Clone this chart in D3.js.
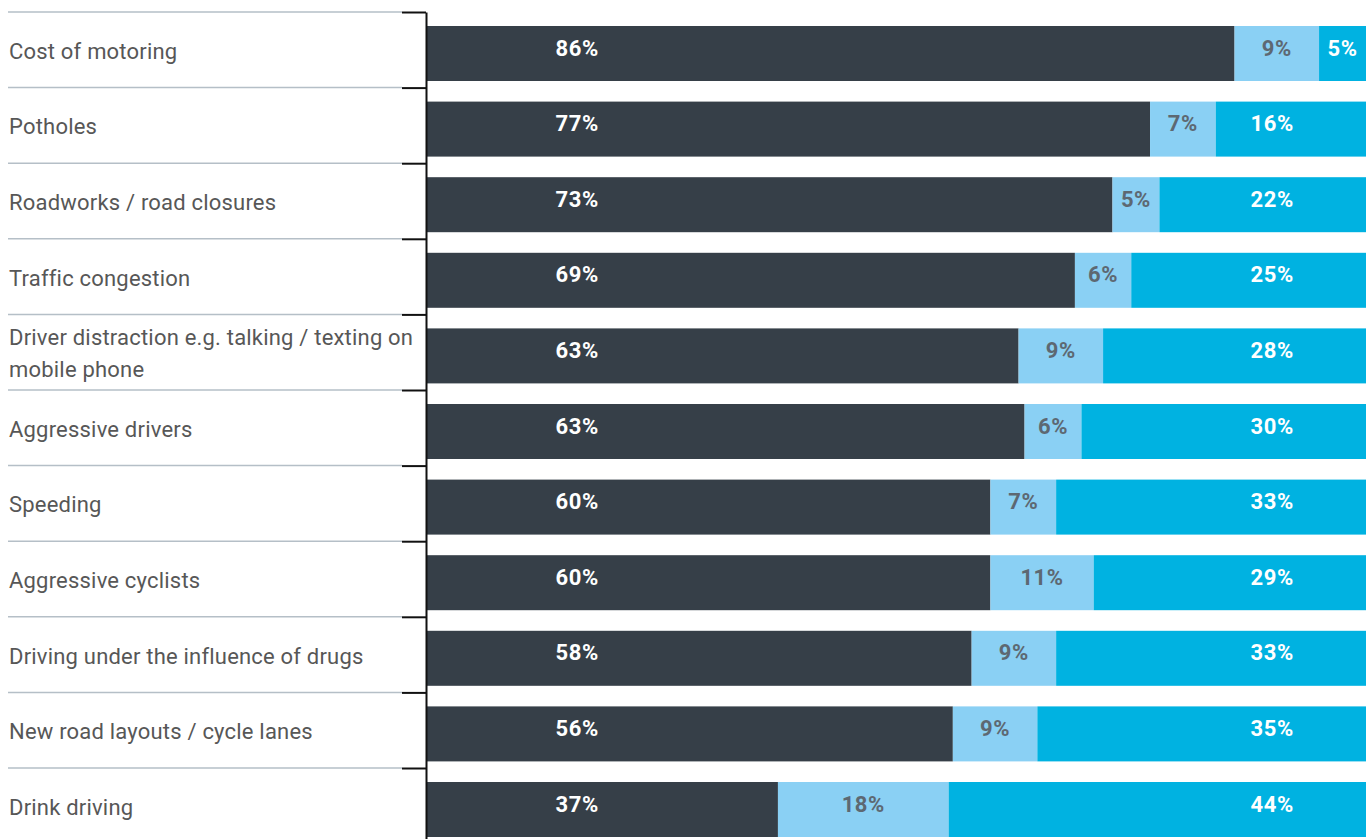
<!DOCTYPE html>
<html>
<head>
<meta charset="utf-8">
<script src="https://cdn.jsdelivr.net/npm/d3@7"></script>
<style>
  html, body { margin: 0; padding: 0; background: #ffffff; }
  svg { display: block; }
</style>
</head>
<body>
<svg id="chart" width="1372" height="839"></svg>
<script>
// Survey responses per road-use concern (percent of respondents)
const categories = [
  "Cost of motoring",
  "Potholes",
  "Roadworks / road closures",
  "Traffic congestion",
  "Driver distraction e.g. talking / texting on mobile phone",
  "Aggressive drivers",
  "Speeding",
  "Aggressive cyclists",
  "Driving under the influence of drugs",
  "New road layouts / cycle lanes",
  "Drink driving"
];
const seriesKeys = ["major", "neutral", "minor"];
const majorValues   = [86, 77, 73, 69, 63, 63, 60, 60, 58, 56, 37];
const neutralValues = [9, 7, 5, 6, 9, 6, 7, 11, 9, 9, 18];
const minorValues   = [5, 16, 22, 25, 28, 30, 33, 29, 33, 35, 44];

const rows = categories.map((c, i) => ({
  category: c,
  major: majorValues[i],
  neutral: neutralValues[i],
  minor: minorValues[i]
}));

const colors = { major: "#363f48", neutral: "#8ad0f4", minor: "#00b2e1" };
const labelColors = { major: "#ffffff", neutral: "#5d6872", minor: "#ffffff" };

const svg = d3.select("#chart");
const axisX = 426;
const barLeft = 427, barRight = 1366;
const rowTop = 12, rowStep = 75.6;

const yIdx = d3.scaleLinear()
  .domain([0, categories.length])
  .range([rowTop, rowTop + categories.length * rowStep]);
const y = d3.scaleBand()
  .domain(categories)
  .range([rowTop, rowTop + categories.length * rowStep])
  .padding(0);
const x = d3.scaleLinear().domain([0, 1]).range([barLeft, barRight]);

const stack = d3.stack().keys(seriesKeys).offset(d3.stackOffsetExpand);
const layers = stack(rows);

// separator lines between categories
svg.append("g")
  .selectAll("line")
  .data(d3.range(categories.length))
  .join("line")
  .attr("x1", 8).attr("x2", axisX - 24)
  .attr("y1", d => yIdx(d)).attr("y2", d => yIdx(d))
  .attr("stroke", "#b5bfc7")
  .attr("stroke-width", 1.5);

// stacked bars
const barOffset = 14, barHeight = 55;
svg.append("g")
  .selectAll("g")
  .data(layers)
  .join("g")
  .attr("fill", d => colors[d.key])
  .selectAll("rect")
  .data(d => d)
  .join("rect")
  .attr("x", d => x(d[0]))
  .attr("width", d => x(d[1]) - x(d[0]))
  .attr("y", d => y(d.data.category) + barOffset)
  .attr("height", barHeight);

// axis with ticks at category boundaries
const axis = d3.axisLeft(yIdx)
  .tickValues(d3.range(categories.length))
  .tickSize(24)
  .tickSizeOuter(0)
  .tickFormat("");
const axisG = svg.append("g")
  .attr("transform", `translate(${axisX},0)`)
  .call(axis);
axisG.selectAll("path, line")
  .attr("stroke", "#111")
  .attr("stroke-width", 2);

// category labels (wrapped to the label column width)
const labelG = svg.append("g")
  .attr("font-family", "Roboto, 'DejaVu Sans', sans-serif")
  .attr("font-size", 22)
  .attr("letter-spacing", 0.2)
  .attr("fill", "#575757");
function wrapLines(text, maxWidth, measure) {
  const words = text.split(" ");
  const lines = [];
  let line = "";
  words.forEach(w => {
    const trial = line ? line + " " + w : w;
    if (measure(trial) > maxWidth && line) { lines.push(line); line = w; }
    else line = trial;
  });
  if (line) lines.push(line);
  return lines;
}
const measureText = labelG.append("text").attr("visibility", "hidden");
const measure = s => { measureText.text(s); return measureText.node().getComputedTextLength(); };
const lineHeight = 32;
categories.forEach(c => {
  const lines = wrapLines(c, 412, measure);
  const cy = y(c) + y.bandwidth() / 2 + 3;
  const t = labelG.append("text")
    .attr("x", 9)
    .attr("dominant-baseline", "middle");
  lines.forEach((ln, i) => {
    t.append("tspan")
      .attr("x", 9)
      .attr("y", cy + (i - (lines.length - 1) / 2) * lineHeight)
      .text(ln);
  });
});
measureText.remove();

// value labels
const valueG = svg.append("g")
  .attr("font-family", "Roboto, 'DejaVu Sans', sans-serif")
  .attr("font-size", 22)
  .attr("font-weight", 700)
  .attr("letter-spacing", 0.6)
  .attr("text-anchor", "middle")
  .attr("dominant-baseline", "middle");
layers.forEach(layer => {
  valueG.selectAll(null)
    .data(layer)
    .join("text")
    .attr("fill", labelColors[layer.key])
    .attr("x", d => {
      const mid = (x(d[0]) + x(d[1])) / 2;
      if (layer.key === "major") return x(0.16);
      if (layer.key === "minor") return d[0] < 0.86 ? x(0.9) : mid;
      return mid;
    })
    .attr("y", d => y(d.data.category) + y.bandwidth() / 2)
    .text(d => d.data[layer.key] + "%");
});
</script>
</body>
</html>
